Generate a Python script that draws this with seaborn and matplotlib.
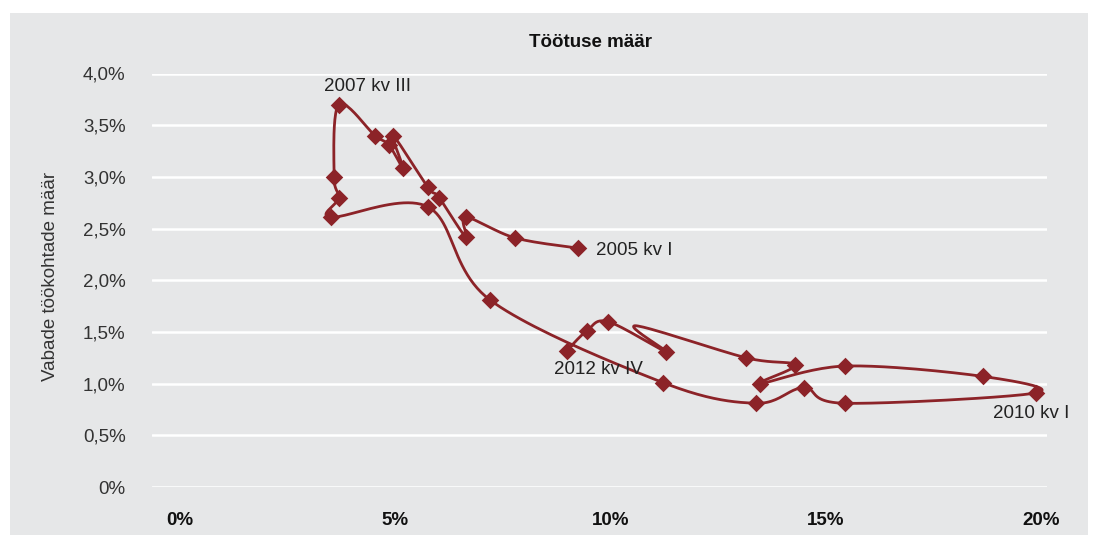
import numpy as np
import pandas as pd
import matplotlib.pyplot as plt
from matplotlib.patches import Rectangle
from matplotlib.ticker import FuncFormatter
import seaborn as sns

# Töötuse määr (%), kvartalite kaupa alates 2005 kv I
unemployment = [9.25, 7.78, 6.64, 6.64, 6.02, 5.76, 4.95, 5.18, 4.85, 4.53,
                3.69, 3.58, 3.69, 3.51, 5.76, 7.20, 11.22, 13.38, 14.49, 15.45,
                19.88, 18.65, 15.45, 13.47, 14.29, 13.15, 10.59, 11.29, 9.94, 9.45,
                8.99]
# Vabade töökohtade määr (%)
vacancies = [2.31, 2.41, 2.61, 2.42, 2.80, 2.90, 3.40, 3.09, 3.31, 3.40,
             3.70, 3.00, 2.80, 2.61, 2.71, 1.81, 1.01, 0.81, 0.96, 0.81,
             0.91, 1.07, 1.17, 1.00, 1.18, 1.25, 1.56, 1.31, 1.60, 1.51,
             1.32]
# punkt, millel originaalis markerit pole (joone "nurk")
no_marker = [26]

labels = ['2005 kv I', '2007 kv III', '2010 kv I', '2012 kv IV']
label_idx = [0, 10, 20, 30]

color = '#8c2328'


# Exceli moodi silutud joon (Bezier, naabrite järgi)
def smooth_line(x, y, n=25):
    pts = np.column_stack([x, y])
    out = [pts[0]]
    for i in range(len(pts) - 1):
        p0 = pts[i - 1] if i > 0 else pts[i]
        p1 = pts[i]
        p2 = pts[i + 1]
        p3 = pts[i + 2] if i + 2 < len(pts) else pts[i + 1]
        c1 = p1 + (p2 - p0) / 6
        c2 = p2 - (p3 - p1) / 6
        t = np.linspace(0, 1, n)[1:, None]
        seg = (1 - t) ** 3 * p1 + 3 * (1 - t) ** 2 * t * c1 + 3 * (1 - t) * t ** 2 * c2 + t ** 3 * p2
        out.extend(seg)
    out = np.array(out)
    return pd.DataFrame({'tootus': out[:, 0], 'vabad': out[:, 1]})


df = pd.DataFrame({'tootus': unemployment, 'vabad': vacancies})
df_markers = df.drop(index=no_marker)
df_line = smooth_line(unemployment, vacancies)

sns.set_theme(style="white")
plt.rcParams['font.family'] = ['Liberation Sans', 'DejaVu Sans']

fig = plt.figure(figsize=(10.96, 5.35), dpi=100, facecolor='white')
fig.patches.append(Rectangle((10 / 1096, 0), 1078 / 1096, 1 - 13 / 535,
                             transform=fig.transFigure, facecolor='#e6e7e8',
                             edgecolor='none', zorder=-10))

ax = fig.add_axes([152 / 1096, 1 - 487 / 535, 895 / 1096, 413.5 / 535])
ax.set_facecolor('none')

sns.lineplot(data=df_line, x='tootus', y='vabad', sort=False, estimator=None,
             color=color, linewidth=2, ax=ax, zorder=3)
sns.scatterplot(data=df_markers, x='tootus', y='vabad', marker='D', s=80,
                color=color, linewidth=0, ax=ax, zorder=4, clip_on=False)

ax.set_xlim(-0.65, 20.14)
ax.set_ylim(0, 4.0)
ax.set_xticks([0, 5, 10, 15, 20])
ax.set_yticks(np.arange(0, 4.01, 0.5))
ax.xaxis.set_major_formatter(FuncFormatter(lambda v, p: f'{v:.0f}%'))
ax.yaxis.set_major_formatter(
    FuncFormatter(lambda v, p: '0%' if v == 0 else f'{v:.1f}'.replace('.', ',') + '%'))

ax.grid(axis='y', color='white', linewidth=1.8)
ax.grid(axis='x', visible=False)
ax.set_axisbelow(True)
for s in ax.spines.values():
    s.set_visible(False)

ax.tick_params(axis='y', length=0, pad=19, labelsize=13.5, labelcolor='#333333')
ax.tick_params(axis='x', length=0, pad=18, labelsize=13.5, labelcolor='#111111')
for t in ax.get_xticklabels():
    t.set_fontweight('bold')

ax.set_xlabel('Töötuse määr', fontsize=13.5, fontweight='bold', color='#111111')
ax.xaxis.set_label_position('top')
ax.xaxis.set_label_coords(0.4905, 1.074)
ax.xaxis.label.set_verticalalignment('center')
ax.set_ylabel('Vabade töökohtade määr', fontsize=13.5, color='#333333')
ax.yaxis.set_label_coords(-0.113, 0.51)
ax.yaxis.label.set_verticalalignment('center')

# sildid
offsets = [(13, -2), (-11, 13), (-31, -15), (-9, -14)]
for lab, i, off in zip(labels, label_idx, offsets):
    ax.annotate(lab, (unemployment[i], vacancies[i]), xytext=off,
                textcoords='offset points', fontsize=13.5, color='#222222',
                va='center', ha='left')

fig.savefig('out.png', dpi=100, facecolor='white')
